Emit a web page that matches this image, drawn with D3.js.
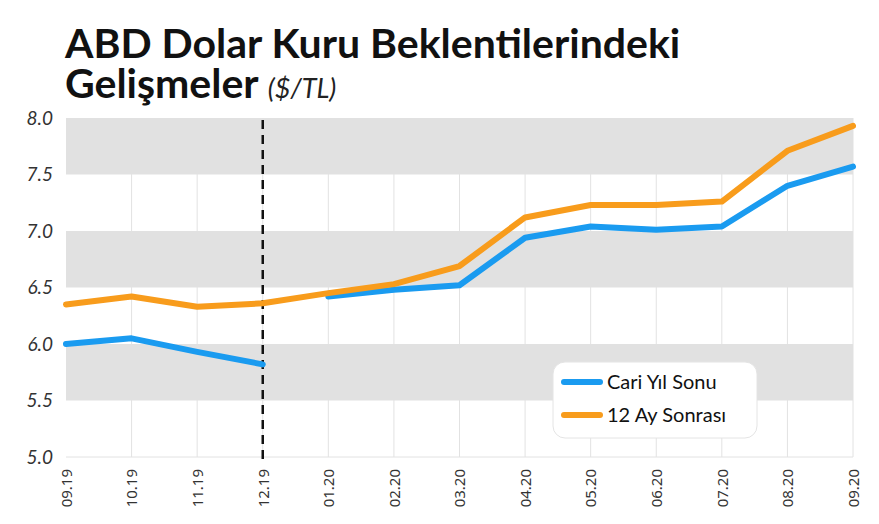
<html>
  <head>
    <script src="https://d3js.org/d3.v7.min.js"></script>
    <style>
      body {margin:0; background:white;}
    </style>
  </head>
  <body>
    <div id="chart1"></div>
    <script>
      var months = ["09.19","10.19","11.19","12.19","01.20","02.20","03.20","04.20","05.20","06.20","07.20","08.20","09.20"];
      // Cari Yil Sonu: two pieces (2019 year-end, then 2020 year-end)
      var cariYilSonu = [6.00, 6.05, 5.93, 5.82, 6.42, 6.48, 6.52, 6.94, 7.04, 7.01, 7.04, 7.40, 7.57];
      var onikiAySonrasi = [6.35, 6.42, 6.33, 6.36, 6.45, 6.53, 6.69, 7.12, 7.23, 7.23, 7.26, 7.71, 7.93];
      var yTicks = [5.0, 5.5, 6.0, 6.5, 7.0, 7.5, 8.0];
      var greyBands = [[5.5, 6.0], [6.5, 7.0], [7.5, 8.0]];
      var breakMonth = "12.19";

      var width = 879, height = 524;
      var margin = {top: 118, right: 26, bottom: 67, left: 66};
      var innerW = width - margin.left - margin.right,
          innerH = height - margin.top - margin.bottom;

      var svg = d3.select("#chart1")
        .append("svg")
          .attr("width", width)
          .attr("height", height)
          .style("font-family", "Lato, sans-serif");

      // title, two lines in one text element
      var title = svg.append("text")
        .attr("x", 65).attr("y", 58)
        .style("font-family", "Lato")
        .attr("fill", "#111");
      title.append("tspan")
        .attr("x", 65)
        .style("font-weight", "bold")
        .style("font-size", "41px")
        .text("ABD Dolar Kuru Beklentilerindeki");
      title.append("tspan")
        .attr("x", 65)
        .attr("dy", 40)
        .style("font-weight", "bold")
        .style("font-size", "41px")
        .text("Gelişmeler ");
      title.append("tspan")
        .style("font-style", "italic")
        .style("font-size", "27px")
        .attr("fill", "#222")
        .text("($/TL)");

      var g = svg.append("g")
        .attr("transform", "translate(" + margin.left + "," + margin.top + ")");

      var x = d3.scalePoint()
        .domain(months)
        .range([0, innerW]);
      var y = d3.scaleLinear()
        .domain([5, 8])
        .range([innerH, 0]);

      // vertical grid
      g.selectAll(".vgrid")
        .data(months.slice(1))
        .enter().append("line")
          .attr("x1", function(d){ return x(d); })
          .attr("x2", function(d){ return x(d); })
          .attr("y1", 0)
          .attr("y2", innerH)
          .attr("stroke", "#e2e2e2")
          .attr("stroke-width", 1);

      // grey bands
      g.selectAll(".band")
        .data(greyBands)
        .enter().append("rect")
          .attr("x", 0)
          .attr("width", innerW)
          .attr("y", function(d){ return y(d[1]); })
          .attr("height", function(d){ return y(d[0]) - y(d[1]); })
          .attr("fill", "#e1e1e1");

      // baseline
      g.append("line")
        .attr("x1", 0).attr("x2", innerW)
        .attr("y1", y(5)).attr("y2", y(5))
        .attr("stroke", "#e2e2e2");

      // y axis labels
      var yAxis = d3.axisLeft(y)
        .tickValues(yTicks)
        .tickFormat(d3.format(".1f"))
        .tickSize(0)
        .tickPadding(13);
      var yg = g.append("g").call(yAxis);
      yg.select(".domain").remove();
      yg.selectAll("text")
        .style("font-family", "Lato")
        .style("font-style", "italic")
        .style("font-size", "19px")
        .attr("fill", "#333");

      // x axis labels
      var xAxis = d3.axisBottom(x).tickSize(0).tickPadding(0);
      var xg = g.append("g")
        .attr("transform", "translate(0," + innerH + ")")
        .call(xAxis);
      xg.select(".domain").remove();
      xg.selectAll("text")
        .attr("transform", "rotate(-90)")
        .attr("x", -12)
        .attr("y", 0)
        .attr("dy", "0.35em")
        .style("text-anchor", "end")
        .style("font-family", "'Noto Sans'")
        .style("font-size", "15px")
        .attr("fill", "#333");

      // dashed break line
      g.append("line")
        .attr("x1", x(breakMonth)).attr("x2", x(breakMonth))
        .attr("y1", 2).attr("y2", innerH + 4)
        .attr("stroke", "#111")
        .attr("stroke-width", 2.5)
        .attr("stroke-dasharray", "9,6");

      var line = d3.line()
        .x(function(d){ return x(d.m); })
        .y(function(d){ return y(d.v); });

      var blueColor = "#1a9bf0", orangeColor = "#f89c1c";

      var cariData = months.map(function(m, i){ return {m: m, v: cariYilSonu[i]}; });
      var breakIdx = months.indexOf(breakMonth);
      [cariData.slice(0, breakIdx + 1), cariData.slice(breakIdx + 1)].forEach(function(seg){
        g.append("path")
          .datum(seg)
          .attr("d", line)
          .attr("fill", "none")
          .attr("stroke", blueColor)
          .attr("stroke-width", 6)
          .attr("stroke-linecap", "round")
          .attr("stroke-linejoin", "round");
      });

      g.append("path")
        .datum(months.map(function(m, i){ return {m: m, v: onikiAySonrasi[i]}; }))
        .attr("d", line)
        .attr("fill", "none")
        .attr("stroke", orangeColor)
        .attr("stroke-width", 6)
        .attr("stroke-linecap", "round")
        .attr("stroke-linejoin", "round");

      // legend
      var legend = svg.append("g").attr("transform", "translate(553,362)");
      legend.append("rect")
        .attr("width", 204).attr("height", 76)
        .attr("rx", 12)
        .attr("fill", "white")
        .attr("stroke", "#e4e4e4");
      var items = [{name: "Cari Yıl Sonu", color: blueColor}, {name: "12 Ay Sonrası", color: orangeColor}];
      items.forEach(function(it, i){
        legend.append("line")
          .attr("x1", 11).attr("x2", 47)
          .attr("y1", 20 + i * 33).attr("y2", 20 + i * 33)
          .attr("stroke", it.color)
          .attr("stroke-width", 6)
          .attr("stroke-linecap", "round");
        legend.append("text")
          .attr("x", 54).attr("y", 20 + i * 33)
          .attr("dy", "0.35em")
          .style("font-family", "Lato")
          .style("font-size", "20px")
          .attr("fill", "#111")
          .text(it.name);
      });
    </script>
  </body>
</html>
